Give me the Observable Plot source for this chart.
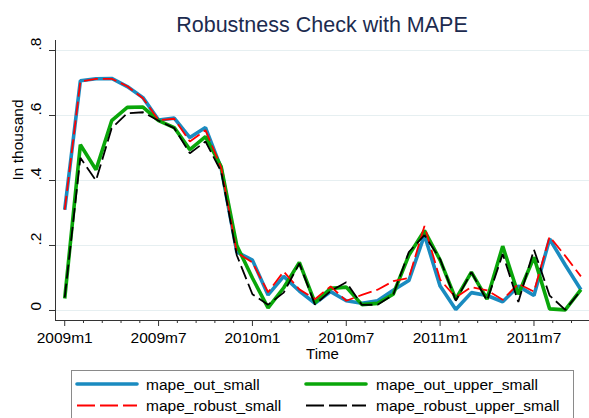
<!DOCTYPE html>
<html>
<head>
<meta charset="utf-8">
<script src="https://cdn.jsdelivr.net/npm/d3@7"></script>
<script src="https://cdn.jsdelivr.net/npm/@observablehq/plot@0.6"></script>
<style>
  html, body { margin: 0; padding: 0; background: #fff; }
  #chart { width: 589px; height: 418px; overflow: hidden; }
</style>
</head>
<body>
<div id="chart"></div>
<script>
// Months 2009m1 .. 2011m10 as index 0..33
const monthIndex = d3.range(34);

const mapeOutSmall = [0.31, 0.707, 0.713, 0.714, 0.689, 0.655, 0.586, 0.592, 0.532, 0.563, 0.438, 0.18,
  0.155, 0.048, 0.105, 0.06, 0.022, 0.058, 0.03, 0.022, 0.03, 0.062, 0.092, 0.232,
  0.075, 0.003, 0.055, 0.046, 0.027, 0.075, 0.046, 0.22, 0.14, 0.064];
const mapeOutUpperSmall = [0.037, 0.51, 0.433, 0.584, 0.625, 0.626, 0.584, 0.563, 0.495, 0.535, 0.443, 0.2,
  0.10, 0.008, 0.07, 0.148, 0.024, 0.068, 0.072, 0.018, 0.022, 0.05, 0.17, 0.246,
  0.155, 0.035, 0.118, 0.035, 0.198, 0.05, 0.164, 0.005, 0.002, 0.064];
const mapeRobustSmall = [0.31, 0.705, 0.713, 0.713, 0.69, 0.653, 0.586, 0.59, 0.52, 0.555, 0.44, 0.178,
  0.148, 0.056, 0.12, 0.065, 0.035, 0.074, 0.03, 0.048, 0.064, 0.09, 0.10, 0.26,
  0.095, 0.04, 0.072, 0.062, 0.033, 0.082, 0.058, 0.227, 0.168, 0.105];
const mapeRobustUpperSmall = [0.04, 0.47, 0.40, 0.561, 0.607, 0.61, 0.584, 0.561, 0.484, 0.52, 0.428, 0.17,
  0.05, 0.018, 0.055, 0.145, 0.018, 0.06, 0.087, 0.017, 0.018, 0.048, 0.18, 0.232,
  0.158, 0.03, 0.118, 0.03, 0.174, 0.026, 0.187, 0.046, 0.002, 0.062];

const seriesNames = ["mape_out_small", "mape_out_upper_small", "mape_robust_small", "mape_robust_upper_small"];
const xMajorTicks = [0, 6, 12, 18, 24, 30];
const xTickLabels = ["2009m1", "2009m7", "2010m1", "2010m7", "2011m1", "2011m7"];
const xMinorTicks = d3.range(0, 33.7, 1.2).filter(t => Math.abs(t / 6 - Math.round(t / 6)) > 1e-6);
const yTicks = [0, 0.2, 0.4, 0.6, 0.8];
const yTickLabels = ["0", ".2", ".4", ".6", ".8"];

const FONT = "'Liberation Sans', Arial, Helvetica, sans-serif";
const styles = [
  {stroke: "#1a8bc0", strokeWidth: 3.6},
  {stroke: "#0aa60a", strokeWidth: 3.6},
  {stroke: "#ff0000", strokeWidth: 1.8, strokeDasharray: "14,5"},
  {stroke: "#000000", strokeWidth: 1.8, strokeDasharray: "14,5"}
];
const seriesData = [mapeOutSmall, mapeOutUpperSmall, mapeRobustSmall, mapeRobustUpperSmall];

const plot = Plot.plot({
  width: 589,
  height: 418,
  marginLeft: 55,
  marginRight: 0,
  marginTop: 40,
  marginBottom: 98,
  style: {fontFamily: FONT, fontSize: "15.5px", background: "#fff", color: "#000"},
  x: {type: "linear", domain: [-0.59, 33.55]},
  y: {domain: [-0.0308, 0.8308]},
  marks: [
    Plot.gridY(yTicks, {stroke: "#e6eff1", strokeOpacity: 1, strokeWidth: 1}),
    Plot.frame({anchor: "left", stroke: "#333"}),
    Plot.frame({anchor: "bottom", stroke: "#333"}),
    Plot.axisY(yTicks, {tickSize: 6, tickFormat: () => "", stroke: "#333"}),
    Plot.text(yTicks, {y: d => d, text: (d, i) => yTickLabels[i], frameAnchor: "left", dx: -19, rotate: -90, fontSize: 15.5, fill: "#000"}),
    Plot.axisX(xMinorTicks, {tickSize: 3, tickFormat: () => "", stroke: "#333"}),
    Plot.axisX(xMajorTicks, {tickSize: 6, tickPadding: 5, stroke: "#333", fontSize: 15.5,
      tickFormat: d => xTickLabels[xMajorTicks.indexOf(d)], label: null}),
    Plot.text(["Time"], {frameAnchor: "bottom", dy: 38, fontSize: 15, fill: "#000"}),
    Plot.text(["In thousand"], {frameAnchor: "left", dx: -37, rotate: -90, fontSize: 15.5, fill: "#000"}),
    ...seriesData.map((vals, k) => Plot.line(vals, {x: (d, i) => monthIndex[i], y: d => d, ...styles[k], strokeLinejoin: "miter", strokeLinecap: "butt"}))
  ]
});

document.getElementById("chart").appendChild(plot);

const svg = d3.select(plot);
svg.append("text")
  .attr("x", 322).attr("y", 32)
  .attr("text-anchor", "middle")
  .style("font-family", FONT).style("font-size", "21.5px")
  .attr("fill", "#1c2b4f")
  .text("Robustness Check with MAPE");

// Legend
const lg = svg.append("g").attr("text-anchor", "start");
lg.append("rect").attr("x", 71.5).attr("y", 370.5).attr("width", 502).attr("height", 70)
  .attr("fill", "#fff").attr("stroke", "#8a8a8a").attr("stroke-width", 1);
const legendPos = [
  {sx: 77, tx: 146, y: 384},
  {sx: 306, tx: 376, y: 384},
  {sx: 77, tx: 146, y: 405.5},
  {sx: 306, tx: 376, y: 405.5}
];
seriesNames.forEach((name, k) => {
  const p = legendPos[k];
  const st = styles[k];
  lg.append("line").attr("x1", p.sx).attr("x2", p.sx + 60).attr("y1", p.y).attr("y2", p.y)
    .attr("stroke", st.stroke).attr("stroke-width", st.strokeWidth)
    .attr("stroke-dasharray", st.strokeDasharray ? "18,5" : null)
    .attr("stroke-linecap", st.strokeDasharray ? "butt" : "round");
  lg.append("text").attr("x", p.tx).attr("y", p.y + 5.5)
    .attr("text-anchor", "start")
    .style("font-family", FONT).style("font-size", "15.5px").attr("fill", "#000")
    .text(name);
});
</script>
</body>
</html>
